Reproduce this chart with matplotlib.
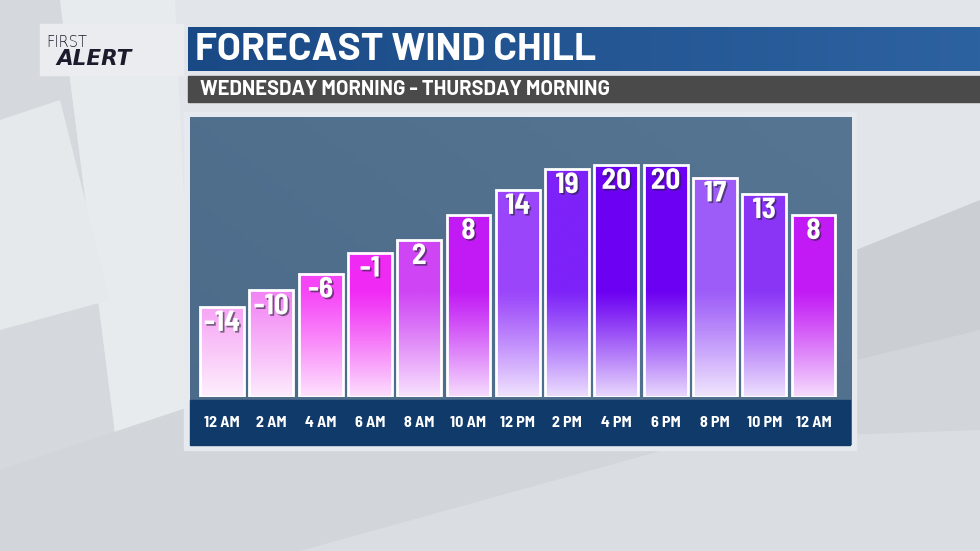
import matplotlib
matplotlib.use('Agg')
import matplotlib.pyplot as plt
import matplotlib.patheffects as pe
from matplotlib.patches import Rectangle, Polygon
from matplotlib.colors import to_rgb
import numpy as np

hours = ['12 AM', '2 AM', '4 AM', '6 AM', '8 AM', '10 AM', '12 PM',
         '2 PM', '4 PM', '6 PM', '8 PM', '10 PM', '12 AM']
wind_chill = [-14, -10, -6, -1, 2, 8, 14, 19, 20, 20, 17, 13, 8]
bar_colors = ['#f59af2', '#f283f4', '#f645f7', '#f02af5', '#cf45f5', '#c21af5',
              '#9a45fa', '#7d22f8', '#6c00f2', '#6c00f2', '#9d5cf8', '#8a35f6',
              '#c21af5']
title = 'FORECAST WIND CHILL'
subtitle = 'WEDNESDAY MORNING - THURSDAY MORNING'

FONT = ['Barlow Semi Condensed', 'DejaVu Sans']
WIDE = ['Barlow', 'DejaVu Sans']
W, H = 980, 551

fig = plt.figure(figsize=(W / 100, H / 100), dpi=100)

# background layer in pixel coordinates
bg = fig.add_axes([0, 0, 1, 1])
bg.set_xlim(0, W)
bg.set_ylim(H, 0)
bg.axis('off')
bg.add_patch(Rectangle((0, 0), W, H, color='#e2e5e9', zorder=0))
shapes = [
    ([(0, 0), (60, 0), (130, 551), (0, 551)], '#d5d9de'),
    ([(60, 0), (175, 0), (200, 551), (130, 551)], '#e8ebee'),
    ([(0, 470), (420, 330), (980, 300), (980, 551), (0, 551)], '#d2d6db'),
    ([(856, 250), (980, 200), (980, 330), (856, 360)], '#cbcfd4'),
    ([(300, 551), (700, 440), (980, 430), (980, 551)], '#dadee3'),
    ([(0, 120), (60, 100), (110, 300), (0, 330)], '#e6e9ec'),
]
for pts, c in shapes:
    bg.add_patch(Polygon(pts, closed=True, color=c, zorder=1, lw=0))

# logo
bg.add_patch(Rectangle((40, 24), 143, 51, color='#eaecef', zorder=2))
bg.text(46, 47, 'FIRST', fontsize=10.5, color='#1b1b2b', family='DejaVu Sans',
        fontweight=200, va='baseline', ha='left', zorder=3)
bg.text(56, 65, 'ALERT', fontsize=15.5, color='#1b1b2b', family='DejaVu Sans',
        fontweight='bold', fontstyle='italic', va='baseline', ha='left', zorder=3)

# title bar with a light horizontal gradient
grad = np.linspace(0, 1, 256).reshape(1, -1)
c0, c1 = np.array(to_rgb('#1a4a86')), np.array(to_rgb('#2d62a0'))
title_img = c0 + (c1 - c0) * grad[..., None]
bg.imshow(title_img, extent=[188, 980, 71, 27], aspect='auto', zorder=2)
bg.text(195, 50, title, fontsize=28, color='white', family=WIDE,
        fontweight='bold', va='center', ha='left', zorder=3)

# subtitle bar
bg.add_patch(Rectangle((188, 76), 792, 26, color='#4a4a4b', zorder=2))
bg.text(200, 89.5, subtitle, fontsize=14.5, color='white', family=WIDE,
        fontweight='bold', va='center', ha='left', zorder=3)

# chart panel
bg.add_patch(Rectangle((184, 112), 672, 338, color='#e6eaee', zorder=2))
pg = np.linspace(0, 1, 64)
p0, p1 = np.array(to_rgb('#4c6b8a')), np.array(to_rgb('#557592'))
panel_img = p0 + (p1 - p0) * (pg.reshape(-1, 1, 1) * 0.4 + pg.reshape(1, -1, 1) * 0.6)
bg.imshow(panel_img[::-1], extent=[190, 851, 445, 117], aspect='auto', zorder=3)
bg.add_patch(Rectangle((190, 400), 660, 45, color='#0f3a6a', zorder=4))
bg.set_xlim(0, W)
bg.set_ylim(H, 0)

# bars axes
ax = fig.add_axes([190 / W, 1 - 397 / H, (851 - 190) / W, (397 - 117) / H])
ax.set_facecolor('none')
ax.axis('off')
base = -35.5
x = np.arange(len(wind_chill))
width = 0.89

for i, (v, col) in enumerate(zip(wind_chill, bar_colors)):
    top = np.array(to_rgb(col))
    light = top + (1 - top) * 0.85
    ys = np.linspace(v, base, 200)
    t = np.clip((-10 - ys) / (-10 - base), 0, 1) ** 1.1
    img = top[None, :] * (1 - t[:, None]) + light[None, :] * t[:, None]
    ax.imshow(img[:, None, :], extent=[i - width / 2, i + width / 2, base, v],
              aspect='auto', zorder=2, interpolation='bilinear')

ax.bar(x, [v - base for v in wind_chill], bottom=base, width=width,
       fill=False, edgecolor='white', linewidth=2, zorder=3)

shadow = [pe.SimplePatchShadow(offset=(1.2, -1.2), shadow_rgbFace='#222233', alpha=0.6),
          pe.Normal()]
for i, v in enumerate(wind_chill):
    ax.text(i, v - 0.9, str(v), fontsize=21, color='white', family=FONT,
            fontweight='bold', ha='center', va='top', zorder=5, path_effects=shadow)
    ax.text(i, base - (423 - 397) / 4.18, hours[i], fontsize=11.5, color='white',
            family=FONT, fontweight='bold', ha='center', va='center', zorder=5,
            clip_on=False)

ax.set_xlim(-0.65, 12.76)
ax.set_ylim(base, 31.5)

fig.savefig('out.png', dpi=100)
